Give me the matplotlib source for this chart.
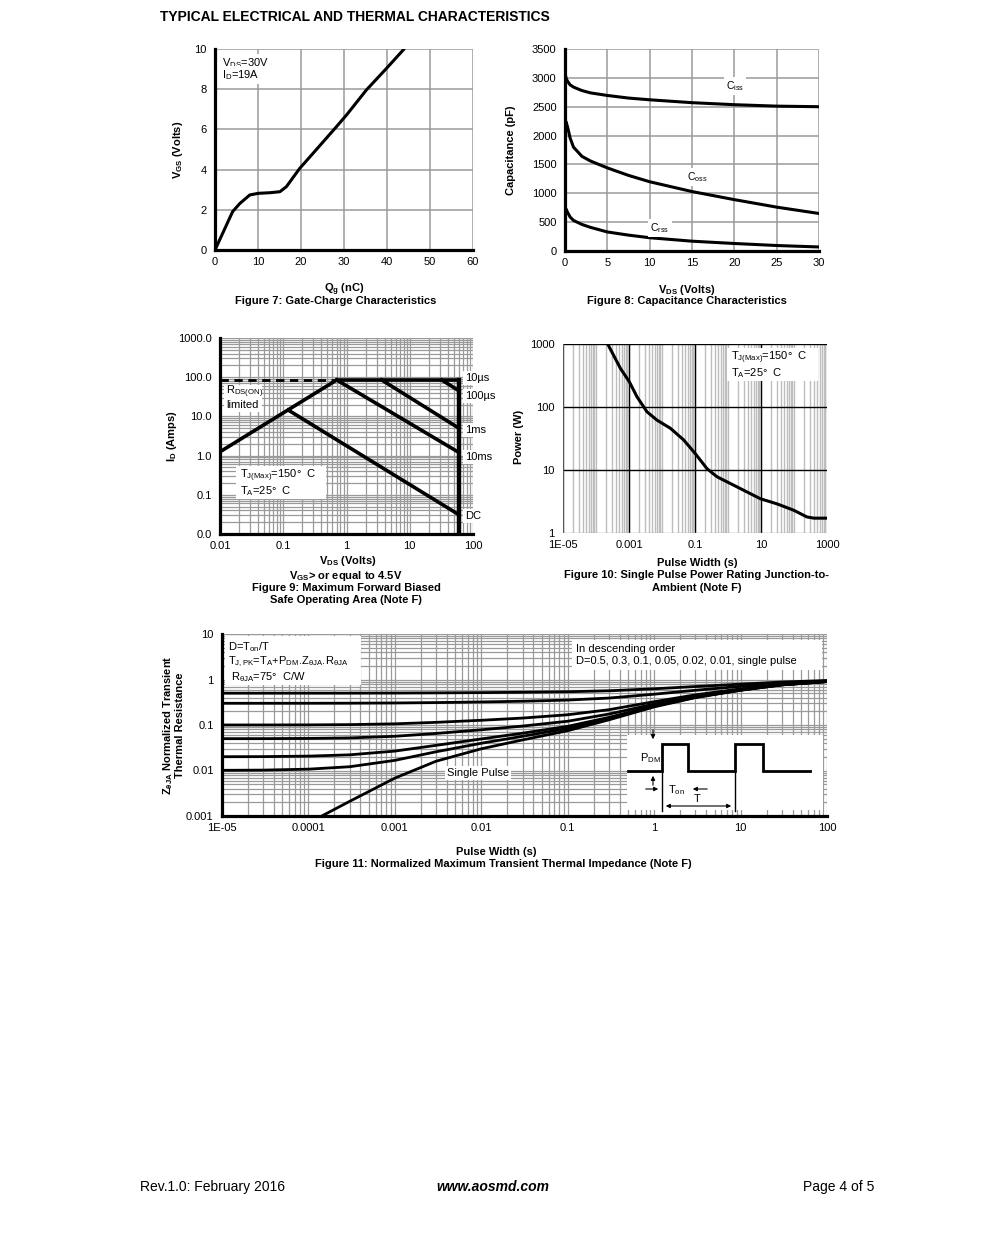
import numpy as np
import matplotlib
matplotlib.use('Agg')
import matplotlib.pyplot as plt
from matplotlib.transforms import IdentityTransform
from matplotlib.patches import Rectangle

plt.rcParams['font.family'] = ['Liberation Sans', 'DejaVu Sans']
plt.rcParams['mathtext.fontset'] = 'custom'
plt.rcParams['mathtext.rm'] = 'Liberation Sans'
plt.rcParams['mathtext.it'] = 'Liberation Sans:italic'
plt.rcParams['mathtext.bf'] = 'Liberation Sans:bold'
plt.rcParams['mathtext.default'] = 'regular'

# ---------------- data ----------------
# Figure 7: gate charge
qg_nc = [0, 4.1, 5.8, 8.1, 10.1, 12.8, 15.1, 16.6, 19.7, 22.8, 27.9, 30.6, 35.2, 39.9, 44.1]
vgs_v = [0, 1.91, 2.32, 2.74, 2.82, 2.85, 2.9, 3.15, 4.06, 4.81, 6.05, 6.72, 7.96, 9.04, 10.03]

# Figure 8: capacitance
vds_cap = [0.05, 0.12, 0.3, 0.6, 1, 2, 3, 5, 7.5, 10, 15, 20, 25, 30]
ciss_pf = [3050, 3000, 2940, 2880, 2840, 2780, 2740, 2695, 2650, 2620, 2570, 2535, 2510, 2500]
coss_pf = [2200, 2240, 2150, 1960, 1800, 1640, 1560, 1440, 1310, 1200, 1030, 890, 760, 650]
crss_pf = [700, 730, 670, 590, 530, 460, 410, 330, 275, 230, 170, 130, 95, 70]

# Figure 9: SOA boundaries (VDS, ID)
soa_limit_v = [0.7, 60];  soa_limit_i = [85, 85]
rds_dash_v = [0.01, 0.7]; rds_dash_i = [85, 85]
rds_line_v = [0.01, 0.7]; rds_line_i = [1.25, 85]
soa_dc_v = [0.12, 60];    soa_dc_i = [14.5, 0.031]
soa_10ms_v = [0.7, 60];   soa_10ms_i = [85, 1.2]
soa_1ms_v = [3.6, 60];    soa_1ms_i = [85, 5.0]
soa_100us_v = [32, 60];   soa_100us_i = [85, 45]
soa_vmax_v = [60, 60];    soa_vmax_i = [0.01, 85]
soa_labels = ["10\u00b5s", "100\u00b5s", "1ms", "10ms", "DC"]

# Figure 10: single pulse power
pw_t = [2.26e-4, 5.5e-4, 1.02e-3, 1.75e-3, 3.5e-3, 7.0e-3, 0.0179, 0.0454, 0.102,
        0.231, 0.465, 1.87, 9.55, 30.5, 97.7, 245, 400, 1000]
pw_p = [1000, 410, 252, 145, 84, 62, 46, 30, 18.2, 10.5, 7.8, 5.4, 3.5, 2.9, 2.3, 1.8, 1.72, 1.72]

# Figure 11: normalized transient thermal impedance
zt = [1e-5, 3e-5, 1e-4, 3e-4, 1e-3, 3e-3, 1e-2, 3e-2, 0.1, 0.3, 1, 3, 10, 30, 100]
z_d50 = [0.5, 0.5001, 0.5004, 0.501, 0.5034, 0.508, 0.515, 0.524, 0.538, 0.565, 0.625, 0.70, 0.79, 0.88, 0.95]
z_d30 = [0.3, 0.3001, 0.3005, 0.3015, 0.3048, 0.311, 0.321, 0.333, 0.353, 0.391, 0.475, 0.58, 0.706, 0.832, 0.93]
z_d10 = [0.1001, 0.1002, 0.1006, 0.1019, 0.1061, 0.1144, 0.127, 0.142, 0.168, 0.217, 0.325, 0.46, 0.622, 0.784, 0.91]
z_d05 = [0.0501, 0.0502, 0.0507, 0.052, 0.0565, 0.0652, 0.0785, 0.0947, 0.121, 0.174, 0.288, 0.43, 0.60, 0.772, 0.905]
z_d02 = [0.0201, 0.0202, 0.0207, 0.0221, 0.0267, 0.0357, 0.0494, 0.066, 0.0935, 0.147, 0.265, 0.412, 0.588, 0.765, 0.90]
z_d01 = [0.0101, 0.0102, 0.0107, 0.0121, 0.0167, 0.0258, 0.0397, 0.0565, 0.084, 0.139, 0.258, 0.406, 0.584, 0.762, 0.90]
zs_t = [1e-4, 3e-4, 1e-3, 3e-3, 1e-2, 3e-2, 0.1, 0.3, 1, 3, 10, 30, 100]
z_single = [0.0007, 0.0021, 0.0068, 0.016, 0.030, 0.047, 0.075, 0.13, 0.25, 0.40, 0.58, 0.76, 0.90]

# ---------------- figure ----------------
W, H = 991, 1246
fig = plt.figure(figsize=(W / 100, H / 100), dpi=100)
ID = IdentityTransform()
TICK = 8
LAB = 8
GRAY = '#9a9a9a'


def ax_px(l, t, r, b):
    return fig.add_axes([l / W, 1 - b / H, (r - l) / W, (b - t) / H])


def ftext(x, y, s, **kw):
    kw.setdefault('fontsize', LAB)
    fig.text(x / W, 1 - y / H, s, **kw)


def ptext(ax, x, y, s, box=True, **kw):
    kw.setdefault('fontsize', TICK)
    kw.setdefault('va', 'center')
    kw.setdefault('ha', 'left')
    if box:
        kw['bbox'] = dict(facecolor='white', edgecolor='none', pad=1.5)
    ax.text(x, H - y, s, transform=ID, zorder=6, clip_on=False, **kw)


def white_rect(ax, x0, y0, x1, y1):
    ax.add_patch(Rectangle((x0, H - y1), x1 - x0, y1 - y0, transform=ID,
                           facecolor='white', edgecolor='none', zorder=3, clip_on=False))


def style(ax, thick=True):
    for s in ['top', 'right']:
        ax.spines[s].set_visible(False)
    for s in ['left', 'bottom']:
        if thick:
            ax.spines[s].set_linewidth(2.3)
            ax.spines[s].set_color('black')
            ax.spines[s].set_zorder(5)
        else:
            ax.spines[s].set_visible(False)
    ax.tick_params(which='both', length=0, labelsize=TICK)
    ax.tick_params(axis='x', pad=5)
    ax.tick_params(axis='y', pad=6)


def log_minor(lo_exp, hi_exp):
    out = []
    for e in range(lo_exp, hi_exp):
        for k in range(1, 10):
            out.append(k * 10.0 ** e)
    out.append(10.0 ** hi_exp)
    return out


ftext(160, 17, "TYPICAL ELECTRICAL AND THERMAL CHARACTERISTICS", fontsize=10,
      fontweight='bold', ha='left', va='center')

# ---------- Figure 7 ----------
ax7 = ax_px(215, 49, 473, 250)
ax7.set_xlim(0, 60); ax7.set_ylim(0, 10)
style(ax7)
ax7.set_xticks(range(0, 61, 10)); ax7.set_yticks(range(0, 11, 2))
for v in range(10, 61, 10):
    ax7.axvline(v, color=GRAY, lw=1.1, zorder=1)
for v in range(2, 11, 2):
    ax7.axhline(v, color=GRAY, lw=1.1, zorder=1)
ax7.plot(qg_nc, vgs_v, color='black', lw=2.2, zorder=4, solid_capstyle='butt')
ptext(ax7, 222, 63, r"V$_{DS}$=30V", box=True)
ptext(ax7, 222, 75, r"I$_{D}$=19A", box=True)
ftext(344, 290, r"Q$_{\mathbf{g}}$ (nC)", fontweight='bold', ha='center', va='center')
ftext(336, 301, "Figure 7: Gate-Charge Characteristics", fontweight='bold', ha='center', va='center')
ftext(178, 150, r"V$_{\mathbf{GS}}$ (Volts)", fontweight='bold', ha='center', va='center', rotation=90)

# ---------- Figure 8 ----------
ax8 = ax_px(565, 49, 819, 251)
ax8.set_xlim(0, 30); ax8.set_ylim(0, 3500)
style(ax8)
ax8.set_xticks(range(0, 31, 5)); ax8.set_yticks(range(0, 3501, 500))
for v in range(5, 31, 5):
    ax8.axvline(v, color=GRAY, lw=1.1, zorder=1)
for v in range(500, 3501, 500):
    ax8.axhline(v, color=GRAY, lw=1.1, zorder=1)
for c in (ciss_pf, coss_pf, crss_pf):
    ax8.plot(vds_cap, c, color='black', lw=2.2, zorder=4)
ptext(ax8, 735, 86, r"C$_{iss}$", ha='center', fontsize=7.5)
ptext(ax8, 697, 177, r"C$_{oss}$", ha='center', fontsize=7.5)
ptext(ax8, 660, 228, r"C$_{rss}$", ha='center', fontsize=7.5)
ftext(687, 290, r"V$_{\mathbf{DS}}$ (Volts)", fontweight='bold', ha='center', va='center')
ftext(687, 301, "Figure 8: Capacitance Characteristics", fontweight='bold', ha='center', va='center')
ftext(511, 150, "Capacitance (pF)", fontweight='bold', ha='center', va='center', rotation=90)

# ---------- Figure 9 ----------
ax9 = ax_px(220, 338, 473, 534)
ax9.set_xscale('log'); ax9.set_yscale('log')
ax9.set_xlim(0.01, 100); ax9.set_ylim(0.01, 1000)
style(ax9)
ax9.set_xticks([0.01, 0.1, 1, 10, 100]); ax9.set_xticklabels(["0.01", "0.1", "1", "10", "100"])
ax9.set_yticks([0.01, 0.1, 1, 10, 100, 1000])
ax9.set_yticklabels(["0.0", "0.1", "1.0", "10.0", "100.0", "1000.0"])
ax9.minorticks_off()
for v in log_minor(-2, 2):
    ax9.axvline(v, color=GRAY, lw=0.9, zorder=1)
for v in log_minor(-2, 3):
    ax9.axhline(v, color=GRAY, lw=0.9, zorder=1)
ax9.plot(rds_dash_v, rds_dash_i, color='black', lw=2.0, ls=(0, (3, 2)), zorder=4)
for vv, ii in [(soa_limit_v, soa_limit_i), (rds_line_v, rds_line_i), (soa_dc_v, soa_dc_i),
               (soa_10ms_v, soa_10ms_i), (soa_1ms_v, soa_1ms_i), (soa_100us_v, soa_100us_i)]:
    ax9.plot(vv, ii, color='black', lw=2.6, zorder=4, solid_capstyle='projecting')
ax9.plot(soa_vmax_v, soa_vmax_i, color='black', lw=3.2, zorder=4, solid_capstyle='projecting')
white_rect(ax9, 224, 385, 262, 412)
ptext(ax9, 226, 392, r"R$_{DS(ON)}$", box=False)
ptext(ax9, 226, 405, "limited", box=False)
white_rect(ax9, 236, 466, 326, 499)
ptext(ax9, 240, 476, r"T$_{J(Max)}$=150$\degree$  C", box=False)
ptext(ax9, 240, 491, r"T$_{A}$=25$\degree$  C", box=False)
for lab, yy in zip(soa_labels, [378, 396, 430, 457, 516]):
    ptext(ax9, 465, yy, lab, box=True)
ftext(348, 561, r"V$_{\mathbf{DS}}$ (Volts)", fontweight='bold', ha='center', va='center')
ftext(346, 576, r"V$_{\mathbf{GS}}$> or equal to 4.5V", fontweight='bold', ha='center', va='center')
ftext(346, 588, "Figure 9: Maximum Forward Biased", fontweight='bold', ha='center', va='center')
ftext(346, 600, "Safe Operating Area (Note F)", fontweight='bold', ha='center', va='center')
ftext(172, 436, r"I$_{\mathbf{D}}$ (Amps)", fontweight='bold', ha='center', va='center', rotation=90)

# ---------- Figure 10 ----------
ax10 = ax_px(563, 344, 827, 533)
ax10.set_xscale('log'); ax10.set_yscale('log')
ax10.set_xlim(1e-5, 1000); ax10.set_ylim(1, 1000)
style(ax10, thick=False)
ax10.set_xticks([1e-5, 1e-3, 0.1, 10, 1000])
ax10.set_xticklabels(["1E-05", "0.001", "0.1", "10", "1000"])
ax10.set_yticks([1, 10, 100, 1000]); ax10.set_yticklabels(["1", "10", "100", "1000"])
ax10.minorticks_off()
for v in log_minor(-5, 3):
    ax10.axvline(v, color='#bdbdbd', lw=1.0, zorder=1)
for v in [1e-3, 0.1, 10]:
    ax10.axvline(v, color='black', lw=1.0, zorder=2)
for v in [10, 100, 1000]:
    ax10.axhline(v, color='black', lw=1.0, zorder=2)
ax10.axvline(1e-5, color='#555555', lw=1.0, zorder=2)
ax10.axhline(1, color='#9a9a9a', lw=1.0, zorder=2)
ax10.plot(pw_t, pw_p, color='black', lw=2.2, zorder=4)
white_rect(ax10, 727, 348, 818, 381)
ptext(ax10, 731, 358, r"T$_{J(Max)}$=150$\degree$  C", box=False)
ptext(ax10, 731, 373, r"T$_{A}$=25$\degree$  C", box=False)
ftext(697, 563, "Pulse Width (s)", fontweight='bold', ha='center', va='center')
ftext(697, 575, "Figure 10: Single Pulse Power Rating Junction-to-", fontweight='bold', ha='center', va='center')
ftext(697, 588, "Ambient (Note F)", fontweight='bold', ha='center', va='center')
ftext(519, 437, "Power (W)", fontweight='bold', ha='center', va='center', rotation=90)

# ---------- Figure 11 ----------
ax11 = ax_px(222, 634, 827, 816)
ax11.set_xscale('log'); ax11.set_yscale('log')
ax11.set_xlim(1e-5, 100); ax11.set_ylim(0.001, 10)
style(ax11)
ax11.set_xticks([1e-5, 1e-4, 1e-3, 1e-2, 0.1, 1, 10, 100])
ax11.set_xticklabels(["1E-05", "0.0001", "0.001", "0.01", "0.1", "1", "10", "100"])
ax11.set_yticks([0.001, 0.01, 0.1, 1, 10]); ax11.set_yticklabels(["0.001", "0.01", "0.1", "1", "10"])
ax11.minorticks_off()
for v in log_minor(-5, 2):
    ax11.axvline(v, color=GRAY, lw=0.9, zorder=1)
for v in log_minor(-3, 1):
    ax11.axhline(v, color=GRAY, lw=0.9, zorder=1)
for z in (z_d50, z_d30, z_d10, z_d05, z_d02, z_d01):
    ax11.plot(zt, z, color='black', lw=2.0, zorder=4)
ax11.plot(zs_t, z_single, color='black', lw=2.0, zorder=4)

white_rect(ax11, 225, 636, 361, 685)
ptext(ax11, 228, 647, r"D=T$_{on}$/T", box=False)
ptext(ax11, 228, 662, r"T$_{J,PK}$=T$_{A}$+P$_{DM}$.Z$_{\theta JA}$.R$_{\theta JA}$", box=False)
ptext(ax11, 231, 677, r"R$_{\theta JA}$=75$\degree$  C/W", box=False)
white_rect(ax11, 572, 640, 822, 670)
ptext(ax11, 576, 649, "In descending order", box=False)
ptext(ax11, 576, 661, "D=0.5, 0.3, 0.1, 0.05, 0.02, 0.01, single pulse", box=False)
ptext(ax11, 447, 773, "Single Pulse", box=True)

# pulse-train inset
white_rect(ax11, 627, 735, 823, 810)
tr = ID
def pline(xs, ys, lw=2.0):
    ax11.plot(xs, [H - y for y in ys], color='black', lw=lw, transform=tr, zorder=6,
              clip_on=False, solid_joinstyle='miter')
pline([628, 662, 662, 688, 688, 735, 735, 763, 763, 810],
      [771, 771, 744, 744, 771, 771, 744, 744, 771, 771])
pline([662, 662], [771, 811], lw=1.0)
pline([735, 735], [771, 811], lw=1.0)
arrow = dict(arrowstyle='-|>', color='black', lw=0.8, mutation_scale=6)
ax11.annotate("", xy=(653, H - 742), xytext=(653, H - 727), xycoords=tr, textcoords=tr, arrowprops=arrow, zorder=6)
ax11.annotate("", xy=(653, H - 773), xytext=(653, H - 788), xycoords=tr, textcoords=tr, arrowprops=arrow, zorder=6)
ax11.annotate("", xy=(661, H - 789), xytext=(643, H - 789), xycoords=tr, textcoords=tr, arrowprops=arrow, zorder=6)
ax11.annotate("", xy=(690, H - 789), xytext=(710, H - 789), xycoords=tr, textcoords=tr, arrowprops=arrow, zorder=6)
ax11.annotate("", xy=(734, H - 806), xytext=(663, H - 806), xycoords=tr, textcoords=tr,
              arrowprops=dict(arrowstyle='<|-|>', color='black', lw=0.8, mutation_scale=6), zorder=6)
ptext(ax11, 640, 758, r"P$_{DM}$", box=False)
ptext(ax11, 668, 790, r"T$_{on}$", box=False)
ptext(ax11, 694, 799, "T", box=False)

ftext(496, 852, "Pulse Width (s)", fontweight='bold', ha='center', va='center')
ftext(503, 864, "Figure 11: Normalized Maximum Transient Thermal Impedance (Note F)",
      fontweight='bold', ha='center', va='center')
ftext(168, 725, r"Z$_{\mathbf{\theta JA}}$ Normalized Transient", fontweight='bold', ha='center', va='center', rotation=90)
ftext(180, 725, "Thermal Resistance", fontweight='bold', ha='center', va='center', rotation=90)

# ---------- footer ----------
ftext(140, 1187, "Rev.1.0: February 2016", fontsize=10, ha='left', va='center')
ftext(493, 1187, "www.aosmd.com", fontsize=10, ha='center', va='center', fontweight='bold', style='italic')
ftext(874, 1187, "Page 4 of 5", fontsize=10, ha='right', va='center')

fig.savefig('out.png', dpi=100)
